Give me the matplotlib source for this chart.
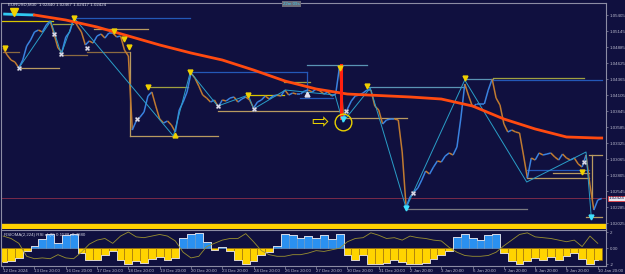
import numpy as np
import matplotlib.pyplot as plt
from matplotlib.collections import LineCollection
from matplotlib.patches import Rectangle

plt.rcParams['font.family'] = ['Liberation Sans Narrow', 'Liberation Sans', 'DejaVu Sans']

# EURUSD M30, close sampled every 6 bars (3 hours), 12 Dec 2024 -> 10 Jan 2025
close = [
    1.04869, 1.04755, 1.04674, 1.04641, 1.04544, 1.04674, 1.04901, 1.04999, 1.05129, 1.05161,
    1.05129, 1.05243, 1.05308, 1.05096, 1.04869, 1.04804, 1.05048, 1.05129, 1.05340, 1.05226,
    1.05129, 1.04918, 1.04983, 1.04950, 1.05064, 1.05096, 1.05031, 1.05113, 1.05113, 1.05048,
    1.05064, 1.04836, 1.04739, 1.03536, 1.03683, 1.03748, 1.03829, 1.04089, 1.04154, 1.03926,
    1.03715, 1.03650, 1.03683, 1.03618, 1.03504, 1.03861, 1.03991, 1.04154, 1.04463, 1.04381,
    1.04251, 1.04105, 1.04056, 1.03991, 1.04024, 1.03910, 1.04024, 1.04008, 1.04056, 1.04073,
    1.03991, 1.04040, 1.04073, 1.04024, 1.03894, 1.03991, 1.04024, 1.04089, 1.04040, 1.04089,
    1.04105, 1.04089, 1.04186, 1.04105, 1.04138, 1.04121, 1.04121, 1.04170, 1.04186, 1.04154,
    1.04203, 1.04170, 1.04121, 1.04154, 1.04089, 1.04121, 1.04576, 1.03731, 1.03878, 1.04008,
    1.04089, 1.04105, 1.04138, 1.04186, 1.04186, 1.03926, 1.03861, 1.03634, 1.03699, 1.03715,
    1.03715, 1.03699, 1.03179, 1.02285, 1.02448, 1.02529, 1.02594, 1.02724, 1.02870, 1.02821,
    1.02935, 1.03033, 1.03016, 1.03114, 1.03163, 1.03130, 1.03260, 1.03731, 1.04284, 1.04089,
    1.03910, 1.03959, 1.03959, 1.03959, 1.04186, 1.04365, 1.04056, 1.03943, 1.03634, 1.03504,
    1.03536, 1.03504, 1.03488, 1.03130, 1.02756, 1.03081, 1.03049, 1.03163, 1.03130, 1.03146,
    1.03163, 1.03098, 1.03049, 1.03146, 1.03081, 1.03049, 1.03081, 1.02984, 1.02935, 1.03130,
    1.02643, 1.02236, 1.02399, 1.02424,
]
bars = np.arange(len(close)) * 6

# long moving average
ma_bars = [0, 48, 96, 144, 192, 240, 288, 336, 384, 432, 480, 528, 576, 624, 672, 720,
           768, 816, 864, 912, 918]
ma_price = [1.05421, 1.05405, 1.05324, 1.05210, 1.05064, 1.04918, 1.04788, 1.04674, 1.04511,
            1.04333, 1.04203, 1.04121, 1.04097, 1.04073, 1.04040, 1.03926, 1.03715, 1.03553,
            1.03423, 1.03406, 1.03406]

# zigzag swings
zz_bars = [24, 73, 89, 109, 261, 287, 329, 376, 384, 433, 509, 521, 563, 618, 708, 803, 894, 902]
zz_price = [1.04544, 1.05308, 1.04771, 1.05356, 1.03439, 1.04479, 1.03926, 1.04105, 1.03878,
            1.04186, 1.04105, 1.03666, 1.04219, 1.02269, 1.04349, 1.02691, 1.03179, 1.02123]

# support / resistance segments
lvl_start = [107, -3, 76, 139, 0, 128, 89, 28, 194, 222, 287, 466, 430, 558, 329, 376, 456,
             521, 708, 751, 751, 619, 804, 804, 843, 899, 894]
lvl_end = [287, 76, 107, 222, 24, 193, 128, 86, 329, 283, 466, 558, 471, 708, 517, 430, 506,
           619, 751, 891, 919, 803, 899, 899, 899, 919, 919]
lvl_price = [1.05356, 1.05308, 1.05259, 1.05178, 1.04804, 1.04804, 1.04755, 1.04544, 1.03439,
             1.04235, 1.04479, 1.04593, 1.04316, 1.04235, 1.03845, 1.04105, 1.04056, 1.03731,
             1.04365, 1.04381, 1.04349, 1.02253, 1.02756, 1.02886, 1.02837, 1.03130, 1.02123]
lvl_kind = ['blue', 'yellow', 'olive', 'tan', 'brown', 'brown', 'brown', 'tan', 'tan', 'olive',
            'blue', 'teal', 'olive', 'teal', 'tan', 'yellow', 'blue', 'tan', 'teal', 'olive',
            'blue', 'grey', 'tan', 'blue', 'tan', 'tan', 'tan']
vert_bar = [194, 466, 903]
vert_lo = [1.03439, 1.04186, 1.02431]
vert_hi = [1.04804, 1.04479, 1.03130]
vert_kind = ['tan', 'blue', 'tan']

# signal arrows
up_fr_bars = [2, 109, 170, 185, 193, 222, 287, 517, 558, 708, 888, 376]
up_fr_price = [1.04869, 1.05356, 1.05145, 1.05015, 1.04885, 1.04235, 1.04479, 1.04544, 1.04251,
               1.04381, 1.02854, 1.04105]
cross_bars = [24, 78, 89, 128, 205, 329, 384, 526, 628, 891]
cross_price = [1.04544, 1.05096, 1.04771, 1.04869, 1.03715, 1.03926, 1.03878, 1.03845, 1.02513,
               1.03016]
cyan_bars = [618, 902, 521]
cyan_price = [1.02269, 1.02123, 1.03715]
spike_bar = 518
spike_hi, spike_lo = 1.04593, 1.03731
bid = 1.02424

# oscillator (sampled every 12 bars)
osc_hist = [
    -1.7, -1.6, -1.2, -0.3, 0.3, 1.1, 1.7, 0.6, 1.6, 1.8, -0.6, -1.4, -1.5, -0.8, -0.3, -1.4,
    -1.9, -1.6, -1.8, -1.3, -1.1, -1.5, -1.2, 1.2, 1.8, 1.9, 0.8, -0.2, 0.1, -0.4, -1.4, -1.9,
    -1.6, -0.9, -0.5, 0.3, 1.7, 1.6, 1.2, 1.5, 1.3, 1.6, 1.1, 1.8, -0.9, -1.4, -0.8, -1.9,
    -2.0, -1.8, -1.4, -1.7, -2.0, -1.9, -1.8, -1.3, -0.9, -0.4, 1.4, 1.8, 1.2, 1.0, 1.6, 1.8,
    -0.6, -1.6, -1.9, -1.6, -1.2, -1.5, -1.1, -1.4, -1.0, -0.6, -1.3, -2.0, -1.5,
]
osc_signal = [
    1.5, 1.2, 0.6, -1.0, -1.3, -1.2, -1.3, -0.8, -1.2, -1.3, -0.5, 0.5, 1.0, 1.2, 0.6, 1.5,
    2.0, 1.4, 1.3, 1.5, 1.7, 1.5, 0.9, -0.5, -1.2, -1.0, 0.2, 0.6, 1.0, 1.2, 1.2, 1.8,
    0.8, -0.3, -0.8, -1.0, -1.0, -0.8, -0.8, -0.6, -0.3, -0.4, -0.2, 0.0, 0.8, 1.2, 1.3, 1.9,
    1.6, 1.2, 1.3, 1.0, 1.5, 1.3, 1.2, 1.0, 0.9, 0.1, -0.5, -0.9, -1.0, -1.0, -0.9, -0.5,
    0.3, 1.0, 1.7, 1.9, 1.4, 1.3, 1.2, 1.0, 0.8, 1.0, 0.2, 1.5, 0.6,
]
osc_bars = np.arange(len(osc_hist)) * 12

day_labels = ['12 Dec 2024', '13 Dec 20:00', '16 Dec 20:00', '17 Dec 20:00', '18 Dec 20:00',
              '19 Dec 20:00', '20 Dec 20:00', '23 Dec 20:00', '24 Dec 20:00', '26 Dec 20:00',
              '27 Dec 20:00', '30 Dec 20:00', '31 Dec 20:00', '2 Jan 20:00', '3 Jan 20:00',
              '6 Jan 20:00', '7 Jan 20:00', '8 Jan 20:00', '9 Jan 20:00', '10 Jan 20:00']
price_ticks = [1.05405, 1.05145, 1.04885, 1.04625, 1.04365, 1.04105, 1.03845, 1.03585,
               1.03325, 1.03065, 1.02805, 1.02545, 1.02285, 1.02025]

BG = '#10103f'
FG = '#b8b8cc'
EDGE = '#8c8ca4'
FS = 3.2
colors = {'blue': '#2458b8', 'yellow': '#d8c400', 'olive': '#a0a040', 'tan': '#b89a60',
          'brown': '#8c6a40', 'teal': '#5a94b4', 'grey': '#7a7a80'}

fig = plt.figure(figsize=(6.25, 2.74), dpi=100, facecolor=BG)
ax = fig.add_axes([0.002, 0.1642, 0.9680, 0.8248], facecolor=BG)
ax2 = fig.add_axes([0.002, 0.0292, 0.9680, 0.1314], facecolor=BG, sharex=ax)

# levels
for s, e, p, k in zip(lvl_start, lvl_end, lvl_price, lvl_kind):
    ax.plot([s, e], [p, p], color=colors[k], lw=0.9, zorder=2)
for b, lo, hi, k in zip(vert_bar, vert_lo, vert_hi, vert_kind):
    ax.plot([b, b], [lo, hi], color=colors[k], lw=0.9, zorder=2)

ax.axhline(bid, color='#7a2a4a', lw=0.7, zorder=1)

# price
pts = np.column_stack([bars, close])
segs = np.stack([pts[:-1], pts[1:]], axis=1)
seg_cols = ['#3a82e0' if c1 >= c0 else '#c07a30' for c0, c1 in zip(close[:-1], close[1:])]
ax.add_collection(LineCollection(segs, colors=seg_cols, linewidths=1.1, zorder=3))

# zigzag
ax.plot(zz_bars, zz_price, color='#2a9ec8', lw=0.7, zorder=4)

# moving average
ax.plot(ma_bars[:2], ma_price[:2], color='#30c8f0', lw=2.0, zorder=5, solid_capstyle='butt')
ax.plot(ma_bars[1:], ma_price[1:], color='#ff4a10', lw=2.0, zorder=5)

# spike bar
ax.plot([spike_bar, spike_bar], [spike_lo, spike_hi], color='#ff2010', lw=2.2, zorder=6)

# markers
ax.plot(up_fr_bars, up_fr_price, 'v', color='#f0d000', ms=3.5, zorder=7)
ax.plot(17, 1.05454, 'v', color='#f0d000', ms=6, zorder=7)
ax.plot(cross_bars, cross_price, 'X', color='#e0e0f0', ms=3.5, mec='#9090a0', mew=0.3, zorder=7)
ax.plot(cyan_bars, cyan_price, 'v', color='#40e0ff', ms=3.5, zorder=7)
ax.plot(466, 1.04121, '^', color='#e0e0f0', ms=3.5, zorder=7)
ax.plot(264, 1.03455, '^', color='#f0d000', ms=3.5, zorder=7)

# annotation circle and arrow
ax.plot(521, 1.03666, 'o', mfc='none', mec='#e8d000', mew=1.0, ms=12, zorder=8)
ax.text(486, 1.03666, '\u21e8', color='#e8d000', fontsize=15, ha='center', va='center',
        family='DejaVu Sans', zorder=8)

# yellow band at the bottom of the price window
ax.add_patch(Rectangle((0, 0), 1, 0.022, transform=ax.transAxes, color='#ffd000', zorder=2))

ax.set_xlim(-3, 925)
ax.set_ylim(1.019275, 1.05600)
ax.yaxis.tick_right()
ax.set_yticks(price_ticks)
ax.set_yticklabels([f'{p:.5f}' for p in price_ticks])
ax.tick_params(axis='y', colors=EDGE, labelcolor=FG, labelsize=FS, length=1.5, width=0.5, pad=0.8)
ax.tick_params(axis='x', bottom=False, labelbottom=False)
for s in ax.spines.values():
    s.set_color(EDGE)
    s.set_linewidth(0.8)
ax.spines['bottom'].set_visible(False)
ax.text(1.004, (bid - 1.019275) / (1.05600 - 1.019275), f'{bid:.5f}', transform=ax.transAxes,
        fontsize=FS, color='#10103f', va='center', ha='left',
        bbox=dict(boxstyle='square,pad=0.1', fc='#e8e8f0', ec='#ff3030', lw=0.5))

# oscillator
hist_cols = ['#2a90f0' if v > 0 else '#ffd400' for v in osc_hist]
edge_cols = ['#7aa8d0' if v > 0 else '#a07010' for v in osc_hist]
ax2.bar(osc_bars, osc_hist, width=12, color=hist_cols, edgecolor=edge_cols, linewidth=0.4)
ax2.step(osc_bars, osc_hist, where='mid', color='#e8e8f0', lw=0.6)
ax2.plot(osc_bars, osc_signal, color='#9a9030', lw=0.6)
ax2.set_ylim(-2.2, 2.25)
ax2.yaxis.tick_right()
ax2.set_yticks([2, 0, -2])
ax2.set_yticklabels(['2', '0.00', '-2'])
ax2.tick_params(axis='y', colors=EDGE, labelcolor=FG, labelsize=FS, length=1.5, width=0.5, pad=0.8)
ax2.set_xticks(np.arange(len(day_labels)) * 48)
ax2.set_xticklabels(day_labels, ha='left')
ax2.tick_params(axis='x', colors=EDGE, labelcolor=FG, labelsize=FS, length=2, width=0.5, pad=0.5)
for s in ax2.spines.values():
    s.set_color(EDGE)
    s.set_linewidth(0.8)
ax2.text(0.004, 0.93, 'RSIOMA(2,224) RSI eh(5) 0.1588 -0.4880', transform=ax2.transAxes,
         fontsize=FS, color='#d0d0e0', va='top')

# header texts
fig.text(0.012, 0.983, 'EURUSD,M30  1.02440 1.02467 1.02417 1.02424', fontsize=FS,
         color='#e0e0f0', va='center')
fig.text(0.466, 0.986, '22m 09s', fontsize=FS, color='#40c8e8', va='center', ha='center',
         bbox=dict(boxstyle='square,pad=0.3', fc='#6a6a78', ec='none'))

fig.savefig('out.png', dpi=100, facecolor=BG)
